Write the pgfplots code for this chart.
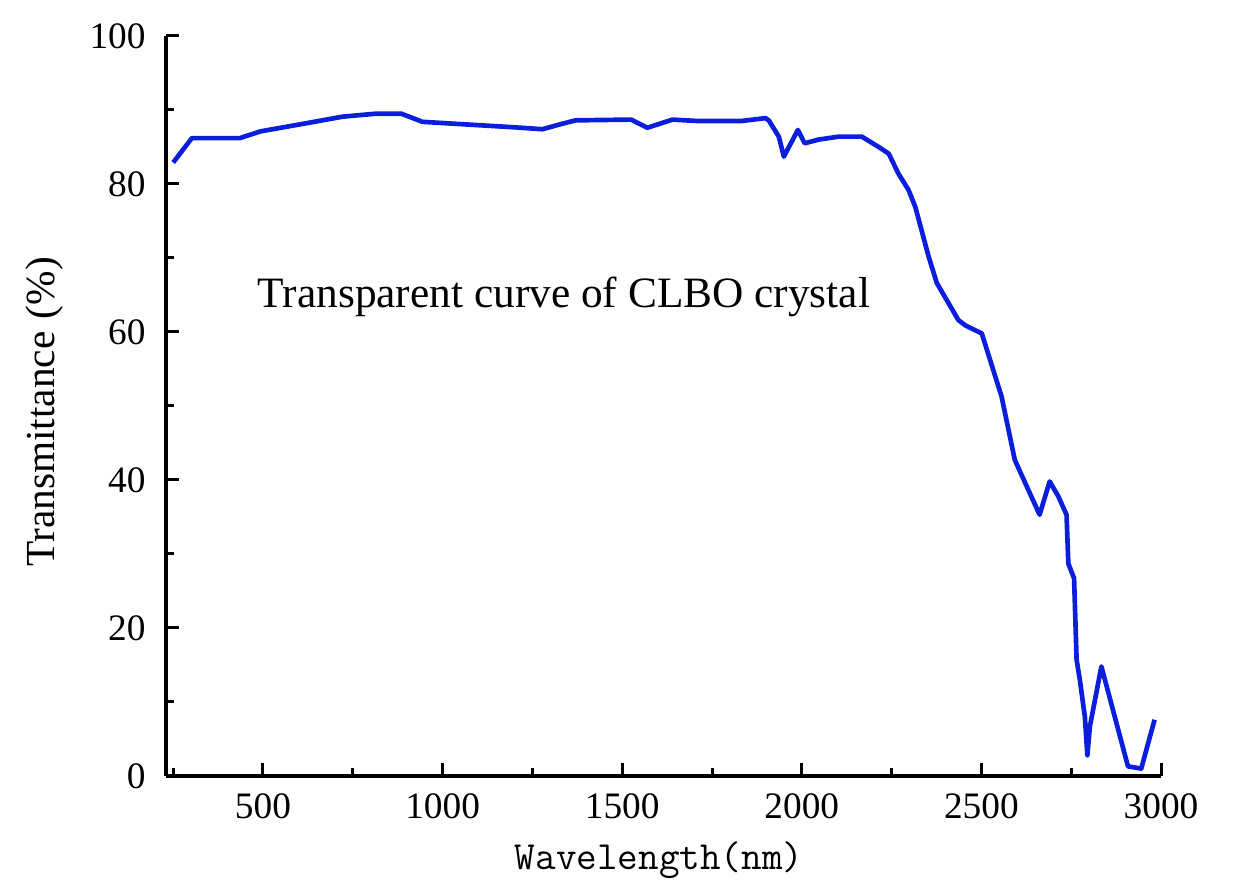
\documentclass[border=0pt]{standalone}
\usepackage{pgfplots}
\pgfplotsset{compat=1.18}
\usepackage{fontspec}
\setmainfont{Liberation Serif}
\definecolor{cblue}{RGB}{10,30,220}
\begin{document}
\begin{tikzpicture}
\path[use as bounding box] (-49.8pt,-33.6pt) rectangle (321.9pt,232.8pt);
\begin{axis}[
  scale only axis, width=298.5pt, height=222pt,
  xmin=230, xmax=3000, ymin=0, ymax=100,
  axis x line*=bottom, axis y line*=left,
  axis line style={line width=1pt, black},
  xtick={500,1000,...,3000}, ytick={0,20,...,100},
  minor xtick={250,750,...,2750}, minor ytick={10,30,...,90},
  tick align=inside,
  major tick length=4pt, minor tick length=2.4pt,
  every tick/.style={black, line width=0.9pt},
  tick label style={font=\fontsize{11.2}{13}\selectfont},
  xticklabel style={yshift=-1.8pt},
  yticklabel style={xshift=-2.6pt},
  /pgf/number format/assume math mode=true,
  /pgf/number format/1000 sep={},
  xlabel={\ttfamily\fontsize{12}{14}\selectfont Wavelength(nm)},
  xlabel style={at={(axis description cs:0.4955,-0.1135)}, anchor=center},
  ylabel={\fontsize{12.4}{14}\selectfont Transmittance\hspace{0.3em}(\%)},
  ylabel style={at={(axis description cs:-0.1216,0.492)}, anchor=center},
  clip=false,
]
\addplot[cblue, line width=1.4pt, line join=round] coordinates {
(250,82.9) (302,86.2) (436,86.2) (492,87.1) (631,88.3) (722,89.1)
(815,89.5) (885,89.5) (944,88.4) (1047,88.1) (1186,87.7) (1278,87.4)
(1330,88.1) (1370,88.6) (1525,88.7) (1570,87.6) (1640,88.7) (1714,88.5)
(1830,88.5) (1899,88.9) (1908,88.6) (1936,86.4) (1950,83.7) (1989,87.3)
(2008,85.5) (2047,86.0) (2103,86.4) (2167,86.4) (2214,85.0) (2242,84.1)
(2269,81.4) (2297,79.2) (2316,76.9) (2353,70.2) (2376,66.6) (2436,61.6)
(2455,60.9) (2501,59.8) (2556,51.3) (2593,42.7) (2662,35.3) (2690,39.8)
(2714,37.8) (2737,35.3) (2742,28.7) (2758,26.7) (2765,15.7) (2774,13.0)
(2788,8.0) (2795,2.8) (2802,6.7) (2834,14.8) (2908,1.3) (2945,1.0) (2982,7.6)
};
\node[font=\fontsize{13}{15}\selectfont] at (axis cs:1338,64.7) {Transparent curve of CLBO crystal};
\end{axis}
\end{tikzpicture}
\end{document}
